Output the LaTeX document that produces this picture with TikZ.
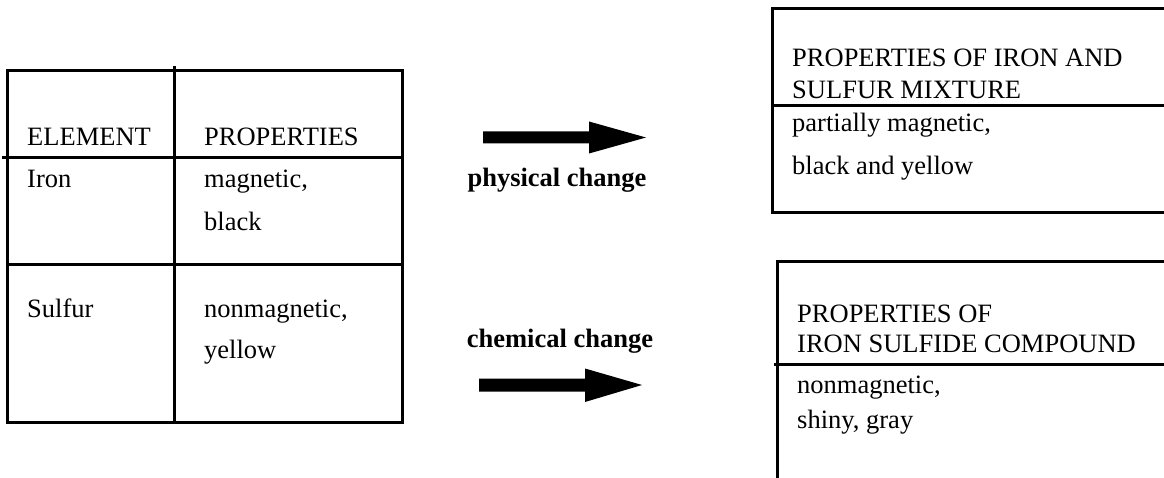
\documentclass[tikz,border=0pt]{standalone}
\usepackage{fontspec}
\setmainfont{Liberation Serif}
\begin{document}
\begin{tikzpicture}[x=1pt,y=-1pt,
  txt/.style={anchor=base west,inner sep=0pt,font=\fontsize{26.5}{31}\selectfont},
  lbl/.style={anchor=base,inner sep=0pt,font=\fontsize{26.5}{31}\selectfont\bfseries},
  rule/.style={line width=3pt,line cap=rect},
  blockarrow/.style={fill=black,draw=none}]
\useasboundingbox (0,0) rectangle (1164,478);
% table
\draw[rule] (7,71) rectangle (402,422);
\draw[rule] (174,68) -- (174,422);
\draw[rule] (3,158) -- (402,158);
\draw[rule] (7,265) -- (402,265);
\node[txt] (el) at (27,146) {ELEMENT};
\node[txt] (pr) at (204,146) {PROPERTIES};
\node[txt] (fe) at (27,188) {Iron};
\node[txt] (fe1) at (204,188) {magnetic,};
\node[txt] (fe2) at (204,231) {black};
\node[txt] (s) at (27,317) {Sulfur};
\node[txt] (s1) at (204,317) {nonmagnetic,};
\node[txt] (s2) at (204,358) {yellow};
% arrows
\coordinate (pa) at (483,137.5);
\coordinate (pt) at (646,137.5);
\fill[blockarrow] (pa) ++(0,-6) -- ++(106,0) -- ++(0,-10) -- (pt) -- ++(-57,16) -- ++(0,-10) -- ++(-106,0) -- cycle;
\node[lbl] (phys) at (557,187) {physical change};
\node[lbl] (chem) at (560,347) {chemical change};
\coordinate (ca) at (479,385);
\coordinate (ct) at (642,385);
\fill[blockarrow] (ca) ++(0,-6.5) -- ++(106,0) -- ++(0,-10) -- (ct) -- ++(-57,17) -- ++(0,-10.5) -- ++(-106,0) -- cycle;
% box 1
\draw[rule] (1170,9) -- (772,9) -- (772,213) -- (1170,213);
\draw[rule] (772,106) -- (1170,106);
\node[txt] (m1) at (792,67) {PROPERTIES OF IRON AND};
\node[txt] (m2) at (792,99) {SULFUR MIXTURE};
\node[txt] (m3) at (792,132) {partially magnetic,};
\node[txt] (m4) at (792,175) {black and yellow};
% box 2
\draw[rule] (1170,262) -- (777,262) -- (777,485);
\draw[rule] (775,364) -- (1170,364);
\node[txt] (c1) at (797,322) {PROPERTIES OF};
\node[txt] (c2) at (797,352) {IRON SULFIDE COMPOUND};
\node[txt] (c3) at (797,393) {nonmagnetic,};
\node[txt] (c4) at (797,428) {shiny, gray};
\end{tikzpicture}
\end{document}
